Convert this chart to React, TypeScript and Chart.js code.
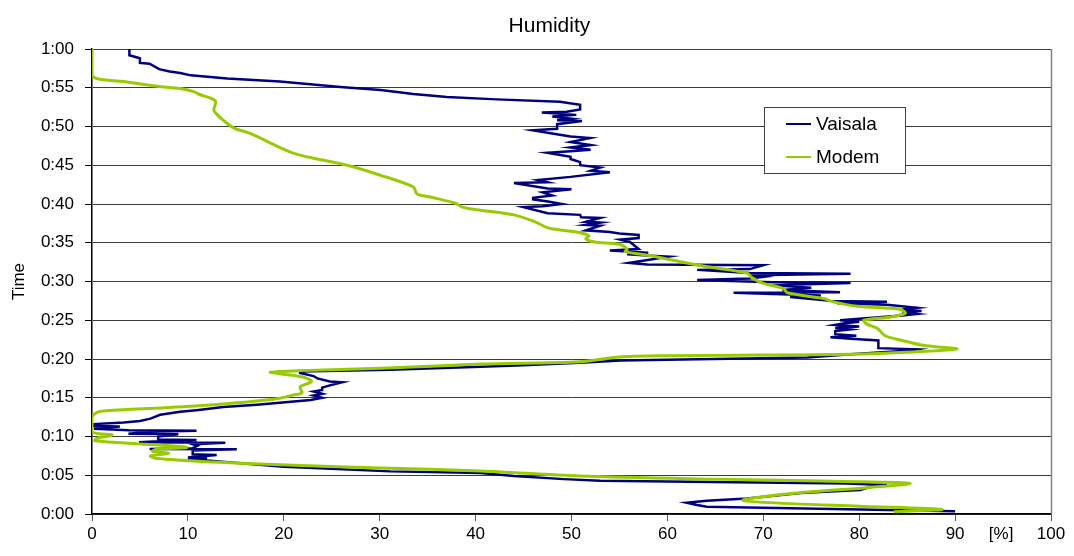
import React, { useEffect, useRef } from "react";
import { Chart, registerables } from "chart.js";

Chart.register(...registerables);

const FONT = '"Liberation Sans", Arial, sans-serif';
const TITLE = "Humidity";
const Y_TITLE = "Time";
const X_UNIT = "[%]";
const SERIES_NAMES = ["Vaisala", "Modem"];
const SERIES_COLORS = ["#000080", "#99CC00"];

const yTickLabels = ["0:00", "0:05", "0:10", "0:15", "0:20", "0:25", "0:30", "0:35", "0:40", "0:45", "0:50", "0:55", "1:00"];

// Vaisala: humidity [%] and elapsed time [min]
const vaisalaHumidity = [
  90.0, 78.7, 64.1, 63.1, 62.0, 64.1, 68.3, 73.9, 80.1, 81.0, 82.9, 78.7, 53.0, 49.2, 44.0, 40.5, 31.1, 20.0,
  12.0, 10.0, 12.0, 10.0, 13.0, 10.5, 10.5, 15.1, 6.0, 10.5, 11.0, 10.5, 13.9, 4.9, 6.9, 10.9, 6.9, 6.9, 9.0, 3.8,
  6.0, 10.9, 3.8, 0.2, 2.9, 0.2, 0.2, 3.3, 5.0, 6.1, 7.1, 9.2, 10.9, 13.7, 17.2, 22.8, 24.0, 23.1, 24.0, 23.1, 24.0,
  24.0, 24.8, 26.1, 24.8, 23.5, 23.1, 21.7, 21.7, 31.1, 40.5, 45.0, 50.9, 55.1, 74.6, 79.1, 85.3, 86.0, 82.0, 82.0,
  79.1, 77.0, 79.7, 77.5, 77.5, 79.0, 77.5, 80.0, 77.5, 78.5, 80.0, 78.0, 80.0, 84.5, 86.0, 84.5, 86.5, 84.5, 86.0,
  82.9, 77.7, 82.9, 77.0, 72.8, 76.0, 66.9, 78.0, 72.0, 75.0, 71.0, 79.1, 71.0, 63.1, 68.6, 70.0, 68.6, 79.1, 68.6,
  63.1, 68.6, 70.0, 57.9, 56.0, 60.1, 55.8, 58.0, 54.0, 57.0, 56.1, 55.1, 57.0, 57.0, 55.0, 54.0, 51.5, 53.0, 51.5,
  53.0, 51.5, 53.0, 51.0, 50.9, 47.5, 45.0, 47.0, 49.0, 47.7, 46.0, 46.0, 48.0, 47.0, 50.0, 47.5, 44.0, 47.5, 46.5,
  49.9, 54.0, 52.0, 53.0, 50.9, 50.9, 49.9, 49.9, 47.5, 49.9, 52.0, 49.9, 52.0, 49.9, 51.9, 49.9, 47.5, 46.0, 48.5,
  48.5, 51.1, 48.5, 50.0, 48.0, 50.5, 46.9, 49.5, 50.9, 50.9, 48.8, 42.2, 37.0, 33.5, 30.1, 25.9, 19.6, 14.1, 10.3,
  9.2, 8.1, 7.0, 6.0, 5.0, 5.0, 3.9, 3.9,
];
const vaisalaTime = [
  0.35, 0.6, 0.95, 1.15, 1.45, 1.7, 2.0, 2.7, 3.1, 3.45, 3.75, 3.95, 4.3, 4.5, 4.9, 5.3, 5.5, 6.1,
  6.9, 7.0, 7.2, 7.3, 7.6, 7.7, 8.2, 8.35, 8.4, 8.5, 8.8, 9.0, 9.2, 9.25, 9.4, 9.55, 9.6, 10.0, 10.3, 10.35,
  10.6, 10.75, 10.8, 11.0, 11.3, 11.35, 11.6, 11.8, 12.0, 12.3, 12.8, 13.2, 13.4, 13.8, 14.1, 14.7, 15.0, 15.3, 15.5, 15.8, 16.0,
  16.3, 16.6, 17.0, 17.1, 17.5, 17.8, 18.2, 18.4, 18.6, 19.0, 19.2, 19.5, 19.8, 20.2, 20.6, 21.1, 21.25, 21.4, 22.4,
  22.6, 22.8, 23.0, 23.2, 23.6, 23.8, 24.0, 24.2, 24.4, 24.6, 24.8, 25.0, 25.2, 25.6, 25.8, 26.0, 26.2, 26.4, 26.6,
  27.0, 27.2, 27.4, 27.5, 28.0, 28.2, 28.55, 28.6, 28.9, 29.2, 29.5, 29.8, 29.9, 30.2, 30.4, 30.6, 30.8, 31.0, 31.1,
  31.5, 31.6, 32.1, 32.2, 32.4, 33.2, 33.5, 33.7, 34.0, 34.2, 35.1, 35.4, 35.6, 36.0, 36.2, 36.4, 36.6, 37.2, 37.3,
  37.6, 37.7, 38.2, 38.3, 38.6, 38.8, 39.6, 39.7, 40.0, 40.3, 40.6, 40.8, 41.1, 41.5, 41.9, 42.0, 42.7, 42.8, 43.1,
  43.5, 44.1, 44.3, 44.7, 45.0, 45.4, 45.8, 46.1, 46.6, 46.8, 47.0, 47.3, 47.6, 48.0, 48.5, 48.7, 49.2, 49.5, 49.7,
  50.3, 50.7, 50.8, 51.0, 51.3, 51.5, 51.8, 51.9, 52.2, 52.8, 53.2, 53.5, 53.8, 54.2, 54.7, 55.1, 55.8, 56.2, 56.6,
  56.9, 57.1, 57.4, 58.1, 58.2, 58.8, 59.2, 60.0,
];

// Modem: humidity [%] and elapsed time [min]
const modemHumidity = [
  83.6, 88.6, 80.0, 70.0, 67.9, 73.5, 80.8, 85.3, 78.7, 64.8, 50.9, 40.5, 30.1, 19.6, 12.7, 6.8, 6.1, 8.0, 6.3, 6.8,
  9.9, 5.7, 0.3, 0.5, 2.1, 0.0, 0.0, 0.9, 5.7, 12.7, 18.9, 21.0, 21.9, 21.7, 22.9, 21.9, 19.6, 18.6, 21.7, 30.1,
  40.5, 50.9, 55.4, 79.1, 85.6, 90.2, 87.0, 84.3, 82.7, 81.9, 80.8, 80.5, 83.2, 84.8, 84.3, 79.8, 77.2, 76.3, 72.5,
  72.1, 70.0, 68.8, 68.3, 63.2, 58.4, 55.6, 55.8, 55.0, 52.4, 51.5, 51.8, 50.9, 47.6, 46.2, 44.0, 40.5, 38.6, 37.9,
  35.3, 33.9, 33.5, 30.1, 26.6, 23.1, 20.7, 16.5, 14.8, 13.7, 13.0, 12.7, 12.9, 12.5, 11.3, 10.6, 9.2, 6.8, 3.3,
  0.0, 0.0,
];
const modemTime = [
  0.3, 0.6, 1.0, 1.5, 1.8, 2.7, 3.4, 3.95, 4.2, 4.5, 4.9, 5.55, 5.95, 6.35, 6.7, 7.15, 7.5, 7.8, 8.1, 8.35,
  8.6, 9.0, 9.45, 9.75, 10.2, 10.6, 12.55, 13.25, 13.6, 14.1, 14.8, 15.35, 15.65, 16.4, 17.1, 17.7, 18.1, 18.3, 18.5, 18.8,
  19.35, 19.65, 20.3, 20.6, 20.9, 21.3, 21.7, 22.45, 23.0, 23.95, 24.5, 25.0, 25.4, 25.9, 26.4, 26.8, 27.4, 27.8, 28.55,
  29.1, 29.75, 30.5, 31.1, 32.1, 33.3, 33.85, 34.15, 34.8, 35.1, 35.5, 35.9, 36.3, 36.9, 37.7, 38.6, 39.2, 39.6, 40.1,
  40.9, 41.3, 42.2, 43.7, 45.0, 45.9, 46.7, 49.1, 49.8, 50.8, 51.6, 52.1, 53.2, 53.6, 54.1, 54.5, 54.9, 55.2, 55.8,
  56.5, 60.0,
];

const toPoints = (xs: number[], ys: number[]) => xs.map((x, i) => ({ x, y: ys[i] }));

const decorPlugin = {
  id: "decor",
  afterDraw(chart: any) {
    const { ctx, chartArea: a, scales } = chart;
    ctx.save();
    // right frame line
    ctx.strokeStyle = "#808080";
    ctx.lineWidth = 1.5;
    ctx.beginPath();
    ctx.moveTo(a.right + 0.5, a.top);
    ctx.lineTo(a.right + 0.5, a.bottom);
    ctx.stroke();

    ctx.fillStyle = "#000";
    // title
    ctx.font = `21px ${FONT}`;
    ctx.textAlign = "center";
    ctx.textBaseline = "middle";
    ctx.fillText(TITLE, a.left + (a.right - a.left) * 0.477, 26);

    // y axis title
    ctx.save();
    ctx.translate(19, (a.top + a.bottom) / 2);
    ctx.rotate(-Math.PI / 2);
    ctx.font = `17px ${FONT}`;
    ctx.fillText(Y_TITLE, 0, 0);
    ctx.restore();

    // x unit label
    ctx.font = `17px ${FONT}`;
    ctx.fillText(X_UNIT, scales.x.getPixelForValue(94.8), a.bottom + 20);

    // legend
    const lx = 764, ly = 107, lw = 141, lh = 66;
    ctx.fillStyle = "#fff";
    ctx.fillRect(lx, ly, lw, lh);
    ctx.strokeStyle = "#404040";
    ctx.lineWidth = 1;
    ctx.strokeRect(lx + 0.5, ly + 0.5, lw, lh);
    SERIES_NAMES.forEach((name, i) => {
      const y = ly + 17 + i * 33;
      ctx.strokeStyle = SERIES_COLORS[i];
      ctx.lineWidth = 2;
      ctx.beginPath();
      ctx.moveTo(786, y);
      ctx.lineTo(811, y);
      ctx.stroke();
      ctx.fillStyle = "#000";
      ctx.font = `19px ${FONT}`;
      ctx.textAlign = "left";
      ctx.fillText(name, 816, y + 1);
    });
    ctx.restore();
  },
};

export default function App() {
  const ref = useRef<HTMLCanvasElement>(null);
  useEffect(() => {
    if (!ref.current) return;
    const chart = new Chart(ref.current, {
      type: "scatter",
      data: {
        datasets: [
          {
            label: SERIES_NAMES[0],
            data: toPoints(vaisalaHumidity, vaisalaTime),
            showLine: true,
            borderColor: SERIES_COLORS[0],
            borderWidth: 2.5,
            pointRadius: 0,
            tension: 0,
            order: 1,
          },
          {
            label: SERIES_NAMES[1],
            data: toPoints(modemHumidity, modemTime),
            showLine: true,
            borderColor: SERIES_COLORS[1],
            borderWidth: 3,
            pointRadius: 0,
            tension: 0.3,
            order: 0,
          },
        ],
      },
      options: {
        responsive: false,
        animation: false,
        devicePixelRatio: 1,
        layout: { padding: { left: 0, right: 23, top: 49, bottom: 0 } },
        plugins: { legend: { display: false }, title: { display: false }, tooltip: { enabled: false } },
        scales: {
          x: {
            type: "linear",
            min: 0,
            max: 100,
            ticks: { stepSize: 10, color: "#000", font: { family: FONT, size: 17 }, padding: 3, maxRotation: 0 },
            grid: { drawOnChartArea: false, drawTicks: true, tickLength: 7, tickColor: "#555" },
            border: { color: "#000", width: 1.5 },
            afterFit: (s: any) => { s.height = 42; },
          },
          y: {
            type: "linear",
            min: 0,
            max: 60,
            ticks: {
              stepSize: 5,
              color: "#000",
              font: { family: FONT, size: 17 },
              padding: 11,
              callback: (v: any) => yTickLabels[Math.round(Number(v) / 5)],
            },
            grid: { color: "#3c3c3c", lineWidth: 1, drawTicks: true, tickLength: 7, tickColor: "#000" },
            border: { color: "#000", width: 1.5 },
            afterFit: (s: any) => { s.width = 92; },
          },
        },
      },
      plugins: [decorPlugin],
    });
    return () => chart.destroy();
  }, []);
  return (
    <div style={{ position: "absolute", left: 0, top: 0, width: 1074, height: 556, background: "#fff" }}>
      <canvas ref={ref} width={1074} height={556} />
    </div>
  );
}
